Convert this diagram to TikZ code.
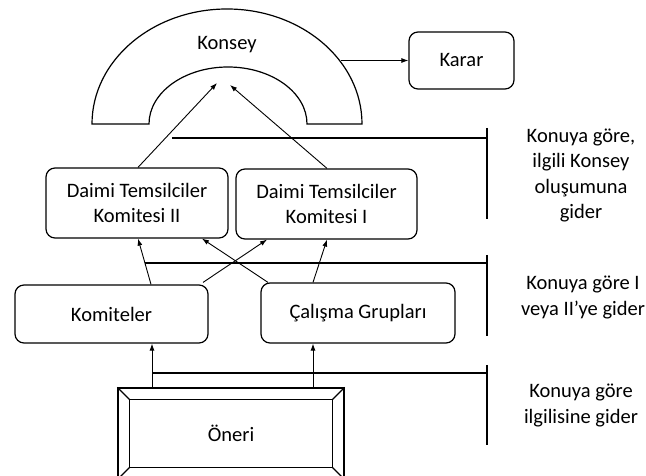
\documentclass[tikz,border=0pt]{standalone}
\usepackage{fontspec}
\setmainfont{Carlito}
\usepackage{tikz}
\usetikzlibrary{arrows.meta, calc, positioning}

\begin{document}
\begin{tikzpicture}[x=1pt, y=1pt,
    >={Latex[length=7pt,width=5pt]},
    font=\fontsize{20.5}{25.5}\selectfont,
    kutu/.style={draw, rounded corners=9pt, line width=1.2pt, align=center},
    ok/.style={->, line width=0.9pt},
    ayrac/.style={line width=1.8pt},
    aciklama/.style={align=center}]
  \useasboundingbox (0,0) rectangle (646,476);

  % Konsey (arch)
  \draw[line width=1.2pt] (92,352) arc[start angle=180, end angle=0, x radius=135pt, y radius=115pt]
    -- (307,352) arc[start angle=0, end angle=180, x radius=79pt, y radius=57pt] -- cycle;
  \node (konsey) at (227,431) {Konsey};
  \coordinate (konseyR) at (341,415.5);
  \coordinate (hedef2) at (217,393);
  \coordinate (hedef1) at (230,391);

  \node[kutu, minimum width=105pt, minimum height=57pt] (karar) at (461.5,415.5) {Karar};
  \node[kutu, minimum width=182pt, minimum height=70pt] (dtk2) at (137,273) {Daimi Temsilciler\\Komitesi II};
  \node[kutu, minimum width=181pt, minimum height=70pt] (dtk1) at (326.5,272) {Daimi Temsilciler\\Komitesi I};
  \node[kutu, minimum width=193pt, minimum height=58pt] (komiteler) at (111.5,162) {Komiteler};
  \node[kutu, minimum width=194pt, minimum height=60pt] (calisma) at (358,163) {Çalışma Grupları};

  % Oneri (bevel box)
  \node[draw, line width=1.2pt, minimum width=226pt, minimum height=91pt] (oneri) at (231,42.5) {Öneri};
  \draw[line width=1.2pt] ($(oneri.south west)+(12,12)$) rectangle ($(oneri.north east)+(-12,-12)$);
  \foreach \k/\dx/\dy in {north west/12/-12, north east/-12/-12, south east/-12/12, south west/12/12}
    \draw[line width=1.2pt] (oneri.\k) -- ++(\dx,\dy);

  % arrows
  \draw[ok] (konseyR) -- (karar.west);
  \draw[ok] ($(dtk2.north)+(1,0)$) -- (hedef2);
  \draw[ok] ($(dtk1.north)+(0.5,0)$) -- (hedef1);
  \draw[ok] ($(komiteler.north)+(39.5,0)$) -- ($(dtk2.south)+(1,0)$);
  \draw[ok] ($(komiteler.north)+(91.5,2)$) -- ($(dtk1.south)+(-59.5,0)$);
  \draw[ok] ($(calisma.north)+(-90,0)$) -- ($(dtk2.south)+(65,0)$);
  \draw[ok] ($(calisma.north)+(-45,0)$) -- ($(dtk1.south)+(0.5,0)$);
  \draw[ok] ($(oneri.north)+(-79,0)$) -- ($(komiteler.south)+(40.5,0)$);
  \draw[ok] ($(oneri.north)+(82,0)$) -- ($(calisma.south)+(-45,0)$);

  % brackets
  \coordinate (ust) at (172,338);
  \coordinate (orta) at (145,213);
  \coordinate (alt) at (153,103);
  \draw[ayrac] (ust) -- (487,338);
  \draw[ayrac] (487,348) -- (487,257);
  \draw[ayrac] (orta) -- (487,213);
  \draw[ayrac] (487,221) -- (487,140);
  \draw[ayrac] (alt) -- (487,103);
  \draw[ayrac] (487,111) -- (487,31);

  \node[aciklama] (not1) at (581,300.5) {Konuya göre,\\ilgili Konsey\\oluşumuna\\gider};
  \node[aciklama] (not2) at (583,178.5) {Konuya göre I\\veya II’ye gider};
  \node[aciklama] (not3) at (581,70.5) {Konuya göre\\ilgilisine gider};
\end{tikzpicture}
\end{document}
